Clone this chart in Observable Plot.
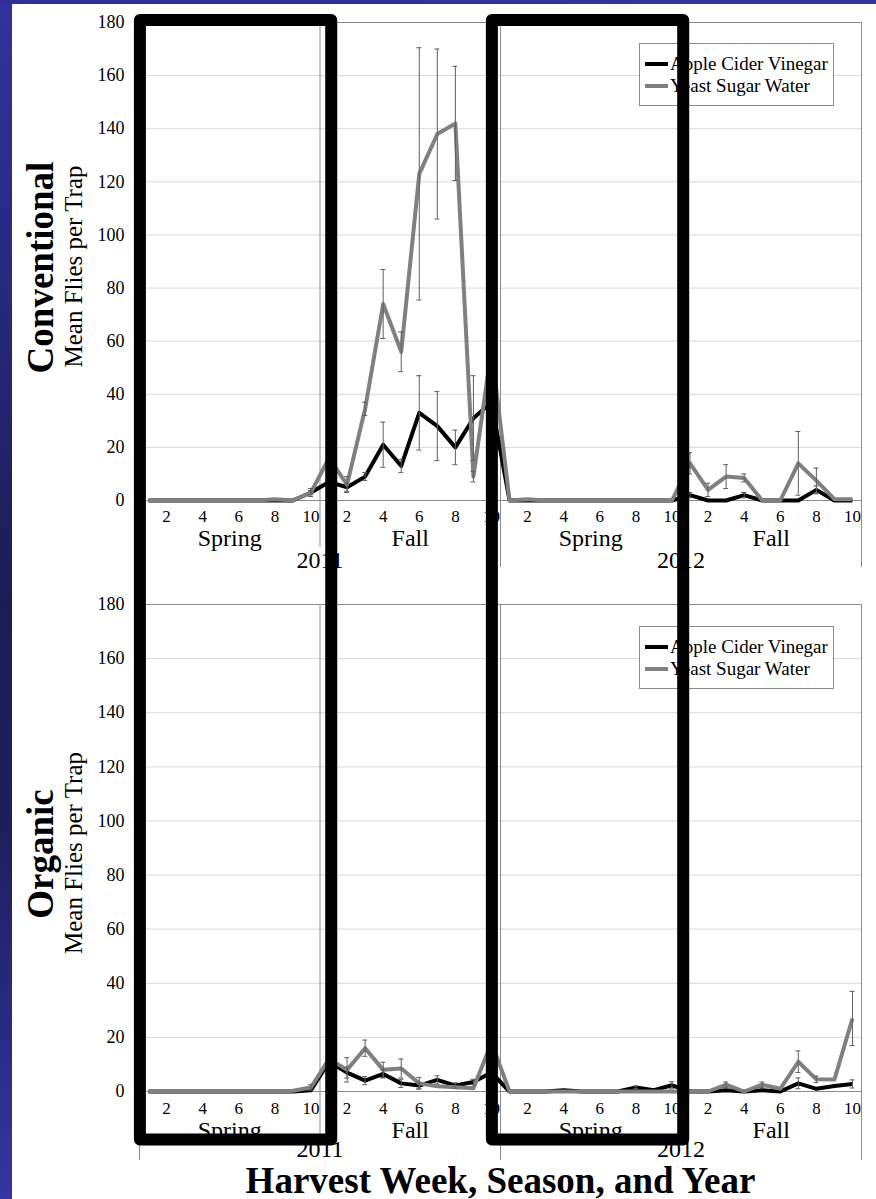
<!DOCTYPE html>
<html>
<head>
<meta charset="utf-8">
<script src="https://cdn.jsdelivr.net/npm/d3@7"></script>
<script src="https://cdn.jsdelivr.net/npm/@observablehq/plot@0.6"></script>
<style>
html,body{margin:0;padding:0;background:#fff;}
#page{position:relative;width:876px;height:1199px;overflow:hidden;background:#fff;font-family:"Liberation Serif","Times New Roman",serif;}
.panel{position:absolute;left:0;}
.panel svg{background:transparent !important;}
#page svg text, #page svg tspan{font-family:"Liberation Serif","Times New Roman",serif !important;}
#bandL{position:absolute;left:0;top:0;width:12px;height:1199px;z-index:5;
  background:linear-gradient(to bottom,#32329c 0%,#2a2a84 20%,#1c1c56 50%,#1f1f60 70%,#2c2c88 88%,#3636a2 100%);}
#bandT{position:absolute;left:0;top:0;width:876px;height:4px;z-index:5;background:linear-gradient(to right,#30309a,#34349c);}
.legend{position:absolute;left:639px;width:195px;height:63px;box-sizing:border-box;border:1px solid #8c8c8c;background:#fff;z-index:2;}
.legend .row{position:absolute;left:5px;height:22px;display:flex;align-items:center;font-size:19px;white-space:nowrap;color:#000;font-family:"Liberation Serif","Times New Roman",serif;}
.legend .sw{width:23px;height:4px;margin-right:2px;}
#overlay{position:absolute;left:0;top:0;z-index:4;pointer-events:none;}
</style>
</head>
<body>
<div id="page">
  <div id="p1" class="panel" style="top:0px"></div>
  <div id="p2" class="panel" style="top:580px"></div>
  <div id="bandL"></div>
  <div id="bandT"></div>
</div>
<script>
// ---------- data ----------
const years = ["2011", "2012"];
const seasons = ["Spring", "Fall"];
const weeks = [1, 2, 3, 4, 5, 6, 7, 8, 9, 10];
const weekTickLabels = [2, 4, 6, 8, 10];
const yTicks = [0, 20, 40, 60, 80, 100, 120, 140, 160, 180];
const seriesNames = ["Apple Cider Vinegar", "Yeast Sugar Water"];
const seriesColors = ["#000000", "#808080"];
const panelLabels = ["Conventional", "Organic"];
const yTitle = "Mean Flies per Trap";
const xTitle = "Harvest Week, Season, and Year";

// order: Spring 2011 (1-10), Fall 2011 (1-10), Spring 2012 (1-10), Fall 2012 (1-10)
const convACV = [0,0,0,0,0,0,0,0,0,3,  7,5,9,21,13,33,28,20,31,37,  0,0,0,0,0,0,0,0,0,0,  2,0,0,2,0,0,0,4,0,0];
const convACVErr = [0,0,0,0,0,0,0,0,0,0.8,  1.5,1.5,1.5,8.5,2.5,14,13,6.5,16,0,  0,0,0,0,0,0,0,0,0,0,  1,0,0,1,0,0,0,1.5,0,0];
const convYSW = [0,0,0,0,0,0,0,0.5,0,3,  16,6,34.5,74,56,123,138,142,9,57,  0,0.5,0,0,0,0,0,0,0,0,  14,4,9,8.5,0,0,14,7.5,0.5,0.5];
const convYSWErr = [0,0,0,0,0,0,0,0,0,1.5,  0,3,2.5,13,7.5,47.5,32,21.5,2,0,  0,0,0,0,0,0,0,0,0,0,  4,2.5,4.5,1.5,0,0,12,4.7,0,0];

const orgACV = [0,0,0,0,0,0,0,0,0,0.5,  11,7,4,6.5,3,2.2,4.3,2.2,3.5,7,  0,0,0,0.5,0,0,0,1.5,0.5,2.3,  0,0,0.5,0,0.5,0,3,1,2,2.8];
const orgACVErr = [0,0,0,0,0,0,0,0,0,0,  0,2,1.5,1.5,1.5,1,1.5,1,1,0,  0,0,0,0,0,0,0,0.5,0,1.3,  0,0,0,0,0,0,2,0,0,1.5];
const orgYSW = [0,0,0,0,0,0,0,0,0.3,1.5,  12,8,16,8,8.5,3,1.9,1.6,1.2,18,  0,0,0,0,0,0,0,0,0,0,  0,0,2.5,0,2.5,1,11,4.5,4.4,27];
const orgYSWErr = [0,0,0,0,0,0,0,0,0,1,  0,4.5,3,2.8,3.5,2.2,0,0,0,0,  0,0,0,0,0,0,0,0,0,0,  0,0,1,0,1,0,4,1.2,0,10];

// highlight boxes drawn over the figure (in week-index units)
const highlights = [{from: 0.55, to: 11.15}, {from: 20.05, to: 30.65}];

// ---------- derived ----------
const categories = years.flatMap(year => seasons.flatMap(season => weeks.map(week => ({year, season, week}))));
categories.forEach((c, j) => c.i = j + 1);
const weekLabelRows = categories.filter(c => weekTickLabels.includes(c.week));
const seasonGroups = d3.groups(categories, c => c.year + "|" + c.season).map(([k, g]) => ({name: g[0].season, center: d3.mean(g, c => c.i), lo: d3.min(g, c => c.i) - 0.5, hi: d3.max(g, c => c.i) + 0.5}));
const yearGroups = d3.groups(categories, c => c.year).map(([k, g]) => ({name: k, center: d3.mean(g, c => c.i), lo: d3.min(g, c => c.i) - 0.5, hi: d3.max(g, c => c.i) + 0.5}));
const yearBounds = Array.from(new Set(yearGroups.flatMap(g => [g.lo, g.hi])));
const seasonBounds = Array.from(new Set(seasonGroups.flatMap(g => [g.lo, g.hi]))).filter(b => !yearBounds.includes(b));
const xDomain = [d3.min(categories, c => c.i) - 0.5, d3.max(categories, c => c.i) + 0.5];

const FONT = "Liberation Serif, Times New Roman, serif";
const AXIS = "#8c8c8c";

function makePanel(cfg) {
  const rows = [];
  cfg.series.forEach((s, k) => s.values.forEach((v, j) => rows.push({i: categories[j].i, v, e: s.errors[j], series: seriesNames[k]})));
  const errRows = rows.filter(d => d.e > 0);
  const T = {fontFamily: FONT, fill: "#000"};
  const marks = [
    Plot.gridY(yTicks.slice(1, -1), {stroke: "#d9d9d9", strokeOpacity: 1, strokeWidth: 1}),
    Plot.ruleY([yTicks[yTicks.length - 1]], {stroke: AXIS, strokeWidth: 1}),
    Plot.ruleX(seasonBounds, {stroke: AXIS, strokeWidth: 1, insetBottom: -cfg.seasonExt}),
    Plot.ruleX(yearBounds, {stroke: AXIS, strokeWidth: 1, insetBottom: -cfg.yearExt}),
    Plot.ruleY([0], {stroke: AXIS, strokeWidth: 1}),
    Plot.axisY(yTicks, {tickSize: 0, tickPadding: 15, fontSize: 18, label: null, ...T}),
    Plot.text(weekLabelRows, {x: "i", text: d => String(d.week), frameAnchor: "bottom", dy: cfg.weekDy, lineAnchor: "bottom", fontSize: 17, ...T}),
    Plot.text(seasonGroups, {x: "center", text: "name", frameAnchor: "bottom", dy: cfg.seasonDy, lineAnchor: "bottom", fontSize: 24, ...T}),
    Plot.text(yearGroups, {x: "center", text: "name", frameAnchor: "bottom", dy: cfg.yearDy, lineAnchor: "bottom", fontSize: 24, ...T}),
    Plot.text([cfg.label], {text: d => d, frameAnchor: "left", rotate: -90, dx: -87, dy: 6, fontSize: 37, fontWeight: "bold", lineAnchor: "bottom", textAnchor: "middle", ...T}),
    Plot.text([yTitle], {text: d => d, frameAnchor: "left", rotate: -90, dx: -58, dy: 5, fontSize: 25, lineAnchor: "bottom", textAnchor: "middle", ...T}),
    Plot.line(rows, {x: "i", y: "v", stroke: "series", strokeWidth: 4, strokeLinejoin: "round", strokeLinecap: "butt"}),
    Plot.ruleX(errRows, {x: "i", y1: d => Math.max(0, d.v - d.e), y2: d => d.v + d.e, stroke: "#5f5f5f", strokeWidth: 1}),
    Plot.ruleY(errRows, {y: d => d.v + d.e, x1: "i", x2: "i", insetLeft: -2.5, insetRight: -2.5, stroke: "#5f5f5f", strokeWidth: 1}),
    Plot.ruleY(errRows, {y: d => Math.max(0, d.v - d.e), x1: "i", x2: "i", insetLeft: -2.5, insetRight: -2.5, stroke: "#5f5f5f", strokeWidth: 1})
  ];
  if (cfg.xTitle) {
    marks.push(Plot.text([cfg.xTitle], {text: d => d, frameAnchor: "bottom", dy: 101, lineAnchor: "bottom", fontSize: 37, fontWeight: "bold", ...T}));
  }
  return Plot.plot({
    width: 876,
    height: cfg.height,
    marginLeft: 139,
    marginRight: 15,
    marginTop: cfg.marginTop,
    marginBottom: cfg.marginBottom,
    style: {fontFamily: FONT, fontSize: "18px", color: "#000", background: "transparent", overflow: "visible"},
    x: {type: "linear", domain: xDomain, axis: null},
    y: {domain: [yTicks[0], yTicks[yTicks.length - 1]], axis: null},
    color: {domain: seriesNames, range: seriesColors},
    marks
  });
}

const p1 = makePanel({
  label: panelLabels[0], height: 580, marginTop: 22, marginBottom: 80,
  seasonExt: 47, yearExt: 67, weekDy: 21, seasonDy: 45, yearDy: 67,
  series: [{values: convACV, errors: convACVErr}, {values: convYSW, errors: convYSWErr}]
});
const p2 = makePanel({
  label: panelLabels[1], height: 619, marginTop: 24, marginBottom: 108,
  seasonExt: 47, yearExt: 69, weekDy: 22, seasonDy: 46, yearDy: 65, xTitle,
  series: [{values: orgACV, errors: orgACVErr}, {values: orgYSW, errors: orgYSWErr}]
});
document.getElementById("p1").appendChild(p1);
document.getElementById("p2").appendChild(p2);

// legends
const page = document.getElementById("page");
[43, 626].forEach(top => {
  const box = document.createElement("div");
  box.className = "legend";
  box.style.top = top + "px";
  seriesNames.forEach((name, k) => {
    const row = document.createElement("div");
    row.className = "row";
    row.style.top = (20.7 + k * 22.3 - 1 - 11) + "px";
    const sw = document.createElement("span");
    sw.className = "sw";
    sw.style.background = seriesColors[k];
    const tx = document.createElement("span");
    tx.textContent = name;
    row.appendChild(sw);
    row.appendChild(tx);
    box.appendChild(row);
  });
  page.appendChild(box);
});

// highlight boxes using the chart's x scale
const sx = p1.scale("x");
const ov = d3.select(page).append("svg").attr("id", "overlay").attr("width", 876).attr("height", 1199);
ov.selectAll("rect").data(highlights).join("rect")
  .attr("x", h => sx.apply(h.from))
  .attr("width", h => sx.apply(h.to) - sx.apply(h.from))
  .attr("y", 20)
  .attr("height", 1139.5 - 20)
  .attr("fill", "none")
  .attr("stroke", "#000")
  .attr("stroke-width", 12)
  .attr("stroke-linejoin", "round");
</script>
</body>
</html>
